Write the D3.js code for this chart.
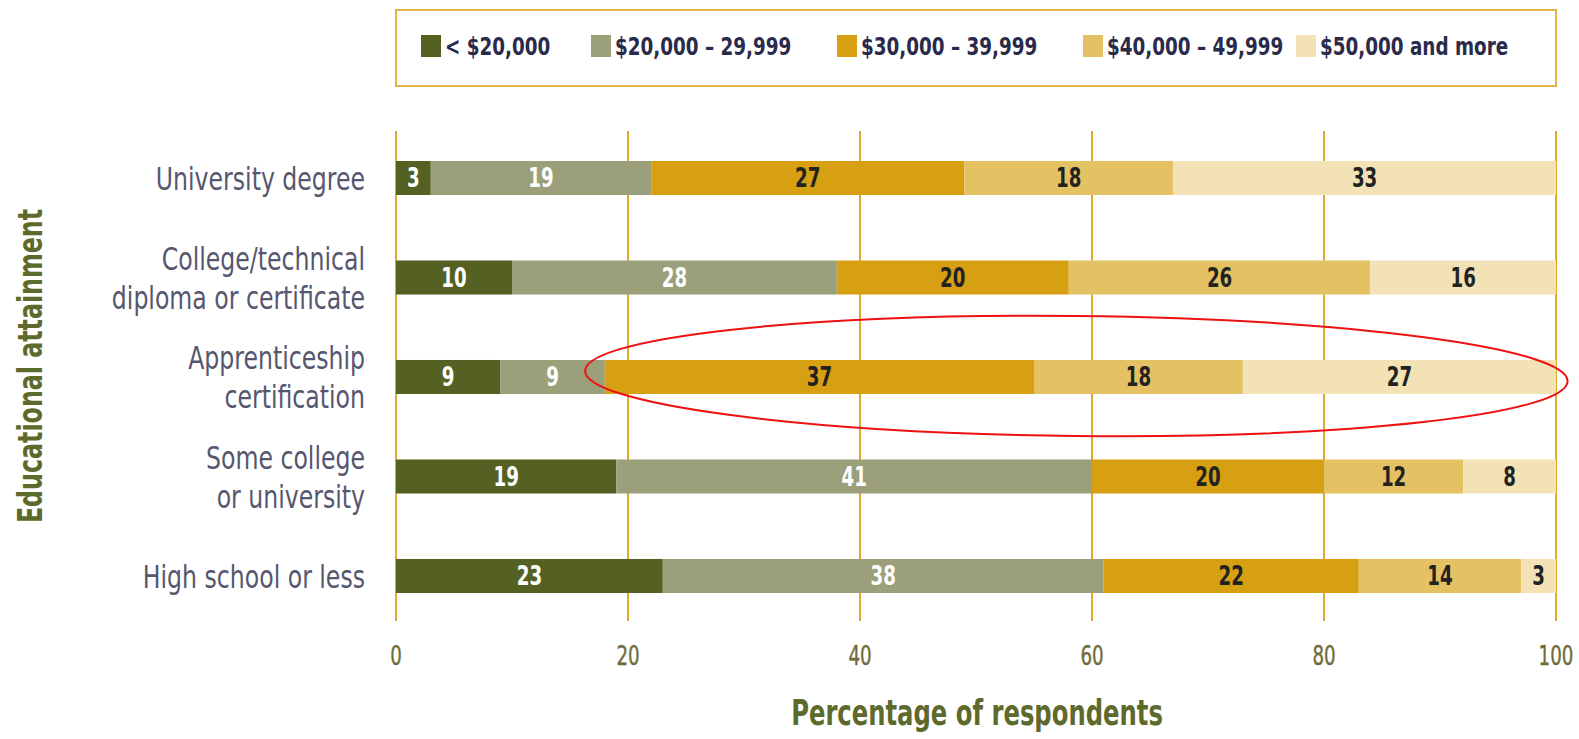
<!DOCTYPE html>
<html>
<head>
<meta charset="utf-8">
<script src="https://cdn.jsdelivr.net/npm/d3@7"></script>
<style>
  body { margin: 0; background: #fff; }
  svg text { font-family: "DejaVu Sans Condensed", "DejaVu Sans", sans-serif; }
</style>
</head>
<body>
<svg id="chart" width="1579" height="739"></svg>
<script>
// income bands (series) and education levels (categories)
const series = ["< $20,000", "$20,000 \u2013 29,999", "$30,000 \u2013 39,999", "$40,000 \u2013 49,999", "$50,000 and more"];
const colors = ["#556122", "#9ba07a", "#d6a012", "#e4c264", "#f2e2b6"];
const labelColors = ["#ffffff", "#ffffff", "#222222", "#222222", "#222222"];

const categories = [
  ["University degree"],
  ["College/technical", "diploma or certificate"],
  ["Apprenticeship", "certification"],
  ["Some college", "or university"],
  ["High school or less"]
];

const under20 = [3, 10, 9, 19, 23];
const from20 = [19, 28, 9, 41, 38];
const from30 = [27, 20, 37, 20, 22];
const from40 = [18, 26, 18, 12, 14];
const over50 = [33, 16, 27, 8, 3];

const xTicks = [0, 20, 40, 60, 80, 100];

const values = [under20, from20, from30, from40, over50];

const svg = d3.select("#chart");

let margin = { top: 131, left: 396, right: 23, bottom: 118 };
let width = 1579;
let height = 739;

let x = d3.scaleLinear()
    .domain([0, 100])
    .range([margin.left, width - margin.right]);

let y = d3.scaleBand()
    .domain(d3.range(categories.length))
    .range([161, 593])
    .paddingInner(0.658)
    .paddingOuter(0);

// squeeze text sideways to mimic the condensed face of the original
function narrowText(g, px, py, sx) {
    return g.append("text")
        .attr("transform", `translate(${px},${py}) scale(${sx},1)`);
}

// grid lines
svg.append("g")
    .selectAll("line")
    .data(xTicks)
    .join("line")
    .attr("x1", (d) => x(d))
    .attr("x2", (d) => x(d))
    .attr("y1", margin.top)
    .attr("y2", 621)
    .attr("stroke", "#dcaa2c")
    .attr("stroke-width", 2);

// stacked segments
let rows = categories.map((c, i) => {
    let start = 0;
    return values.map((s, k) => {
        let seg = { row: i, k: k, x0: start, x1: start + s[i], v: s[i] };
        start += s[i];
        return seg;
    });
}).flat();

let bars = svg.append("g");

bars.selectAll("rect")
    .data(rows)
    .join("rect")
    .attr("x", (d) => x(d.x0))
    .attr("y", (d) => y(d.row))
    .attr("width", (d) => x(d.x1) - x(d.x0))
    .attr("height", y.bandwidth())
    .attr("fill", (d) => colors[d.k]);

let valG = bars.append("g");
rows.forEach((d) => {
    narrowText(valG, (x(d.x0) + x(d.x1)) / 2, y(d.row) + y.bandwidth() / 2, 0.78)
        .attr("dy", "0.36em")
        .attr("text-anchor", "middle")
        .attr("font-size", 26)
        .attr("font-weight", "bold")
        .attr("fill", labelColors[d.k])
        .text(d.v);
});

// category labels
let catG = svg.append("g");
categories.forEach((lines, i) => {
    let cy = y(i) + y.bandwidth() / 2;
    let t = narrowText(catG, 365, cy, 0.82)
        .attr("text-anchor", "end")
        .attr("font-size", 32)
        .attr("fill", "#56576f");
    lines.forEach((ln, j) => {
        t.append("tspan")
            .attr("x", 0)
            .attr("y", (j - (lines.length - 1) / 2) * 39)
            .attr("dy", "0.36em")
            .text(ln);
    });
});

// x tick labels
let tickG = svg.append("g");
xTicks.forEach((d) => {
    narrowText(tickG, x(d), 656, 0.78)
        .attr("dy", "0.36em")
        .attr("text-anchor", "middle")
        .attr("font-size", 26)
        .attr("fill", "#716c3a")
        .attr("stroke", "#716c3a")
        .attr("stroke-width", 0.4)
        .text(d);
});

// axis titles
narrowText(svg, 977, 712, 0.75)
    .attr("dy", "0.36em")
    .attr("text-anchor", "middle")
    .attr("font-size", 36)
    .attr("font-weight", "bold")
    .attr("fill", "#5e6a2c")
    .text("Percentage of respondents");

svg.append("text")
    .attr("transform", "translate(30,366) rotate(-90) scale(0.8,1)")
    .attr("dy", "0.36em")
    .attr("text-anchor", "middle")
    .attr("font-size", 33)
    .attr("font-weight", "bold")
    .attr("fill", "#5e6a2c")
    .text("Educational attainment");

// legend
let legend = svg.append("g");
legend.append("rect")
    .attr("x", 396)
    .attr("y", 10)
    .attr("width", 1160)
    .attr("height", 76)
    .attr("fill", "none")
    .attr("stroke", "#e0b445")
    .attr("stroke-width", 2);

const legendX = [421, 591, 837, 1083, 1296];
series.forEach((s, k) => {
    legend.append("rect")
        .attr("x", legendX[k])
        .attr("y", 35)
        .attr("width", 20)
        .attr("height", 22)
        .attr("fill", colors[k]);
    narrowText(legend, legendX[k] + 24, 46, 0.85)
        .attr("dy", "0.36em")
        .attr("font-size", 24)
        .attr("font-weight", "bold")
        .attr("fill", "#2a2a4a")
        .text(s);
});

// highlight ellipse round the apprenticeship bar
let ex0 = x(16.3), ex1 = x(101);
let ecy = y(2) + y.bandwidth() / 2;
svg.append("ellipse")
    .attr("cx", (ex0 + ex1) / 2)
    .attr("cy", ecy - 1)
    .attr("rx", (ex1 - ex0) / 2)
    .attr("ry", 60)
    .attr("transform", `rotate(0.6, ${(ex0 + ex1) / 2}, ${ecy})`)
    .attr("fill", "none")
    .attr("stroke", "#ee1111")
    .attr("stroke-width", 2);
</script>
</body>
</html>
